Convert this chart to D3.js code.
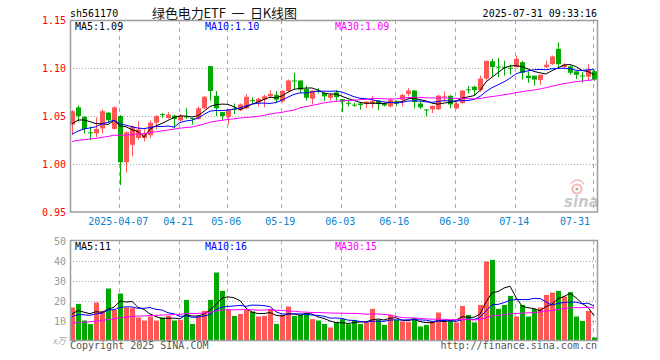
<!DOCTYPE html>
<html>
<head>
<meta charset="utf-8">
<script src="https://cdn.jsdelivr.net/npm/d3@7"></script>
<style>
  body { margin: 0; background: #fff; }
  text { font-family: "DejaVu Sans Mono", monospace; font-size: 10px; }
</style>
</head>
<body>
<div id="chart"></div>
<script>
// trading days shown (2025-03-25 .. 2025-07-31)
var dates = [
  "03-25","03-26","03-27","03-28","03-31","04-01","04-02","04-03","04-07","04-08",
  "04-09","04-10","04-11","04-14","04-15","04-16","04-17","04-18","04-21","04-22",
  "04-23","04-24","04-25","04-28","04-29","04-30","05-06","05-07","05-08","05-09",
  "05-12","05-13","05-14","05-15","05-16","05-19","05-20","05-21","05-22","05-23",
  "05-26","05-27","05-28","05-29","05-30","06-03","06-04","06-05","06-06","06-09",
  "06-10","06-11","06-12","06-13","06-16","06-17","06-18","06-19","06-20","06-23",
  "06-24","06-25","06-26","06-27","06-30","07-01","07-02","07-03","07-04","07-07",
  "07-08","07-09","07-10","07-11","07-14","07-15","07-16","07-17","07-18","07-21",
  "07-22","07-23","07-24","07-25","07-28","07-29","07-30","07-31"
];

var open = [
  1.041,1.059,1.049,1.033,1.032,1.037,1.0535,1.0365,1.050,1.0018,
  1.020,1.027,1.027,1.030,1.043,1.052,1.048,1.0504,1.0455,1.0495,
  1.048,1.047,1.058,1.102,1.071,1.054,1.049,1.0575,1.056,1.058,
  1.0665,1.064,1.067,1.0705,1.072,1.0655,1.076,1.087,1.087,1.078,
  1.068,1.0765,1.074,1.069,1.0745,1.0675,1.0638,1.0618,1.063,1.0625,
  1.0625,1.066,1.0635,1.060,1.0655,1.067,1.073,1.0765,1.063,1.0568,
  1.057,1.057,1.070,1.071,1.058,1.0635,1.0778,1.0805,1.077,1.089,
  1.107,1.1015,1.1013,1.1003,1.101,1.106,1.092,1.092,1.0875,1.101,
  1.104,1.120,1.101,1.1017,1.0965,1.0923,1.091,1.0965
];
var high = [
  1.056,1.061,1.050,1.039,1.0486,1.057,1.054,1.060,1.051,1.034,
  1.040,1.0445,1.036,1.045,1.051,1.053,1.054,1.051,1.052,1.058,
  1.048,1.060,1.071,1.102,1.076,1.054,1.057,1.063,1.063,1.073,
  1.0695,1.069,1.072,1.077,1.076,1.077,1.088,1.095,1.087,1.0815,
  1.0765,1.079,1.074,1.074,1.077,1.0678,1.066,1.064,1.064,1.0655,
  1.071,1.067,1.064,1.0685,1.066,1.073,1.079,1.077,1.0655,1.057,
  1.061,1.072,1.0755,1.072,1.0645,1.077,1.0815,1.0815,1.092,1.1075,
  1.1095,1.1105,1.1075,1.1035,1.113,1.1075,1.0965,1.092,1.093,1.1075,
  1.113,1.1267,1.105,1.1025,1.0965,1.0955,1.104,1.098
];
var low = [
  1.031,1.044,1.032,1.025,1.028,1.032,1.0427,1.036,0.978,0.991,
  1.008,1.025,1.0236,1.027,1.036,1.048,1.047,1.0375,1.044,1.047,
  1.041,1.046,1.057,1.066,1.050,1.046,1.041,1.052,1.055,1.057,
  1.063,1.060,1.059,1.069,1.064,1.064,1.075,1.078,1.074,1.066,
  1.062,1.0735,1.066,1.066,1.066,1.054,1.060,1.0595,1.0565,1.058,
  1.058,1.056,1.060,1.059,1.060,1.060,1.0705,1.058,1.057,1.0497,
  1.053,1.056,1.065,1.058,1.057,1.063,1.0735,1.0715,1.075,1.087,
  1.091,1.0905,1.092,1.093,1.100,1.088,1.0845,1.0815,1.0825,1.100,
  1.103,1.100,1.099,1.093,1.0885,1.0845,1.0875,1.0865
];
var close = [
  1.055,1.050,1.0365,1.032,1.0365,1.055,1.0455,1.059,1.0018,1.033,
  1.039,1.036,1.031,1.043,1.050,1.0515,1.0515,1.047,1.0504,1.049,
  1.047,1.058,1.070,1.076,1.058,1.050,1.0566,1.057,1.062,1.070,
  1.066,1.068,1.0705,1.073,1.067,1.076,1.087,1.086,1.0775,1.069,
  1.0765,1.076,1.0705,1.072,1.0695,1.065,1.0635,1.0615,1.0615,1.0648,
  1.0655,1.0625,1.061,1.067,1.063,1.072,1.0765,1.0645,1.059,1.0565,
  1.0605,1.0712,1.0705,1.062,1.063,1.0765,1.0775,1.077,1.089,1.1075,
  1.101,1.101,1.101,1.100,1.1095,1.095,1.0895,1.088,1.093,1.1035,
  1.112,1.104,1.1035,1.095,1.093,1.092,1.098,1.088
];
// volume, 万手
var volume = [
  16.5,18.3,10,8.2,19,14.8,26,15.3,23.5,16.5,
  16.2,11.5,10,12,10,11.5,12.3,10,10.3,20.3,
  8.3,12.3,14.8,20.3,34,24.8,15.3,12.3,13.3,15.3,
  14.5,12,12.3,15.8,8.3,12.8,17,12.3,12.8,13.3,
  10.7,10,8.3,6.5,9,10.7,8.2,10.3,8.3,9,
  15.8,10.3,7.8,12.8,10.3,9.5,9.2,11.2,7,7.8,
  9.2,14,9.2,9.8,9,17.3,12.8,9,17.8,39.5,
  40.3,15.8,17.8,22.3,12,17.8,12,15.8,16.5,22.8,
  24,24.8,22,24.2,12,9.8,14.8,1.5
];
// sessions before the window, only needed so the moving averages start at the left edge
var earlierClose = [
  1.012,1.015,1.010,1.018,1.022,1.020,1.016,1.013,1.019,1.024,
  1.021,1.017,1.014,1.020,1.026,1.023,1.019,1.022,1.027,1.032,
  1.018,1.015,1.021,1.024,1.024,1.030,1.036,1.041,1.047
];
var earlierVolume = [
  6,7,5.5,8,6.5,7,9,6,7.5,5,
  6.5,8,7,6,7.5,8.5,6,7,8,9,
  9,11,10.5,12,11,10,14,12,14
];

var tickDates = ["04-07","04-21","05-06","05-19","06-03","06-16","06-30","07-14","07-31"];
var tickLabels = ["2025-04-07","04-21","05-06","05-19","06-03","06-16","06-30","07-14","07-31"];
var priceTicks = [0.95, 1.00, 1.05, 1.10, 1.15];
var volumeTicks = [10, 20, 30, 40, 50];
var maPeriods = [5, 10, 30];
var maColors = ["#000000", "#0000ff", "#ff00ff"];
var priceMaText = ["MA5:1.09", "MA10:1.10", "MA30:1.09"];
var volumeMaText = ["MA5:11", "MA10:16", "MA30:15"];

var RED = "#ff5656", GREEN = "#00a800", FRAME = "#9c9c9c", GRID = "#aaaaaa";

var svg = d3.select("#chart").append("svg")
    .attr("width", 660)
    .attr("height", 360);

var x = d3.scaleBand().domain(dates).range([69.5, 597.5]);
var yP = d3.scaleLinear().domain([0.95, 1.15]).range([212, 20]);
var yV = d3.scaleLinear().domain([0, 50]).range([340.5, 240.5]);
var cx = function(d) { return x(d) + 3; };

function movingAvg(prev, vals, n) {
  var all = prev.concat(vals), out = [];
  for (var i = 0; i < vals.length; i++) {
    var j = i + prev.length;
    out.push(d3.mean(all.slice(j - n + 1, j + 1)));
  }
  return out;
}

var up = close.map(function(c, i) { return c >= open[i]; });

// ---------- header ----------
svg.append("text").attr("x", 70).attr("y", 17).attr("fill", "#000").text("sh561170");
svg.append("text").attr("x", 152).attr("y", 18)
    .style("font-family", "'Noto Sans CJK SC', sans-serif").style("font-size", "13px")
    .style("white-space", "pre")
    .attr("textLength", 145).attr("lengthAdjust", "spacing")
    .attr("fill", "#111").text("绿色电力ETF\u00a0\u00a0一\u00a0\u00a0日K线图");
svg.append("text").attr("x", 597).attr("y", 17).attr("text-anchor", "end")
    .attr("fill", "#000").text("2025-07-31 09:33:16");

// ---------- panels: grid ----------
function panel(y, top, bottom, gridVals) {
  var g = svg.append("g");
  g.selectAll(".hg").data(gridVals).enter().append("line")
      .attr("x1", 70).attr("x2", 597)
      .attr("y1", function(d) { return Math.round(y(d)) + 0.5; })
      .attr("y2", function(d) { return Math.round(y(d)) + 0.5; })
      .attr("stroke", GRID).attr("stroke-dasharray", "1,2");
  g.selectAll(".vg").data(tickDates).enter().append("line")
      .attr("x1", function(d) { return Math.round(x(d)) + 1.5; })
      .attr("x2", function(d) { return Math.round(x(d)) + 1.5; })
      .attr("y1", top).attr("y2", bottom)
      .attr("stroke", GRID).attr("stroke-dasharray", "4,4");
  return g;
}
panel(yP, 20, 212, [1.00, 1.05, 1.10]);
panel(yV, 240.5, 340.5, [10, 20, 30, 40]);

// sina watermark
var wm = svg.append("g").attr("opacity", 0.75);
wm.append("circle").attr("cx", 577).attr("cy", 189).attr("r", 4.5)
    .attr("fill", "none").attr("stroke", "#f3a4a4").attr("stroke-width", 2.2);
wm.append("circle").attr("cx", 577).attr("cy", 189).attr("r", 1.6).attr("fill", "#999");
wm.append("path").attr("d", "M571,184 Q577,176 584,184")
    .attr("fill", "none").attr("stroke", "#f3a4a4").attr("stroke-width", 1.5);
wm.append("text").attr("x", 564).attr("y", 207)
    .style("font-family", "'DejaVu Sans', sans-serif").style("font-size", "15px")
    .style("font-style", "italic").style("font-weight", "bold")
    .attr("fill", "#b8b8b8").text("sina");

// ---------- candles ----------
var candles = svg.append("g").selectAll("g").data(dates).enter().append("g");
candles.append("line")
    .attr("x1", function(d) { return Math.round(cx(d)) - 0.5; })
    .attr("x2", function(d) { return Math.round(cx(d)) - 0.5; })
    .attr("y1", function(d, i) { return yP(high[i]); })
    .attr("y2", function(d, i) { return yP(low[i]); })
    .attr("stroke", function(d, i) { return up[i] ? RED : GREEN; });
candles.append("rect")
    .attr("x", function(d) { return Math.round(x(d)); })
    .attr("width", 5)
    .attr("y", function(d, i) { return yP(Math.max(open[i], close[i])); })
    .attr("height", function(d, i) {
      return Math.max(1, Math.abs(yP(open[i]) - yP(close[i])));
    })
    .attr("fill", function(d, i) { return up[i] ? RED : GREEN; });

// ---------- volume bars ----------
svg.append("g").selectAll("rect").data(dates).enter().append("rect")
    .attr("x", function(d) { return Math.round(x(d)); })
    .attr("width", 5)
    .attr("y", function(d, i) { return yV(volume[i]); })
    .attr("height", function(d, i) { return yV(0) - yV(volume[i]); })
    .attr("fill", function(d, i) { return up[i] ? RED : GREEN; });

// ---------- moving averages ----------
maPeriods.forEach(function(n, k) {
  var pm = movingAvg(earlierClose, close, n);
  var vm = movingAvg(earlierVolume, volume, n);
  svg.append("path").datum(pm)
      .attr("d", d3.line().x(function(d, i) { return cx(dates[i]) - 0.5; }).y(function(d) { return yP(d); }))
      .attr("fill", "none").attr("stroke", maColors[k]).attr("stroke-width", 1);
  svg.append("path").datum(vm)
      .attr("d", d3.line().x(function(d, i) { return cx(dates[i]) - 0.5; }).y(function(d) { return yV(d); }))
      .attr("fill", "none").attr("stroke", maColors[k]).attr("stroke-width", 1);
});

// ---------- frames ----------
svg.append("rect").attr("x", 70.5).attr("y", 20.5).attr("width", 527).attr("height", 191.5)
    .attr("fill", "none").attr("stroke", FRAME).attr("stroke-width", 1.5);
svg.append("rect").attr("x", 70.5).attr("y", 240.5).attr("width", 527).attr("height", 100)
    .attr("fill", "none").attr("stroke", FRAME).attr("stroke-width", 1.5);

// ---------- MA legends ----------
var legendX = [75, 205, 335];
priceMaText.forEach(function(t, k) {
  svg.append("text").attr("x", legendX[k]).attr("y", 30).attr("fill", maColors[k]).text(t);
});
volumeMaText.forEach(function(t, k) {
  svg.append("text").attr("x", legendX[k]).attr("y", 250).attr("fill", maColors[k]).text(t);
});

// ---------- y labels ----------
svg.append("g").selectAll("text").data(priceTicks).enter().append("text")
    .attr("x", 66)
    .attr("y", function(d) { return yP(d) + 4; })
    .attr("text-anchor", "end")
    .attr("fill", "#ff0000")
    .text(d3.format(".2f"));

svg.append("g").selectAll("text").data(volumeTicks).enter().append("text")
    .attr("x", 66)
    .attr("y", function(d) { return yV(d) + 4; })
    .attr("text-anchor", "end")
    .attr("fill", "#999")
    .text(function(d) { return d; });
svg.append("text").attr("x", 66).attr("y", 344).attr("text-anchor", "end")
    .style("font-style", "italic").attr("fill", "#aaa")
    .style("font-family", "'Noto Sans CJK SC', sans-serif").style("font-size", "9px").text("x万");

// date labels; the last one is kept inside the frame
svg.append("g").selectAll("text").data(tickDates).enter().append("text")
    .attr("x", function(d, i) {
      var c = x(d) + 0.8;
      return i === tickDates.length - 1 ? Math.min(c, 590 - 15) : c;
    })
    .attr("y", 225)
    .attr("text-anchor", "middle")
    .attr("fill", "#0a84d0")
    .text(function(d, i) { return tickLabels[i]; });

// ---------- footer ----------
svg.append("text").attr("x", 70).attr("y", 349).attr("fill", "#555").text("Copyright 2025 SINA.COM");
svg.append("text").attr("x", 597).attr("y", 349).attr("text-anchor", "end")
    .attr("fill", "#555").text("http://finance.sina.com.cn");
</script>
</body>
</html>
